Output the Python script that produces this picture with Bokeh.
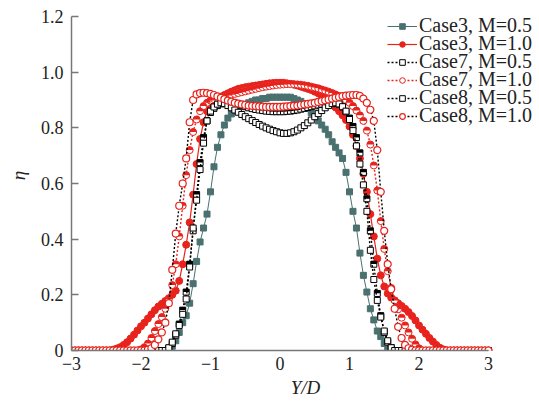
from bokeh.plotting import figure
from bokeh.models import (ColumnDataSource, Legend, LegendItem, FixedTicker, Range1d,
                          PrintfTickFormatter)
from bokeh.embed import file_html
from bokeh.resources import INLINE

# ---------------- data (eta vs Y/D), sampled every 0.05 in Y/D ----------------
yd = [round(-3 + 0.05 * i, 2) for i in range(121)]

case3_m05 = [0] * 28 + [
    0.005, 0.015, 0.035, 0.065, 0.10, 0.125, 0.17, 0.24, 0.32, 0.39,
    0.44, 0.49, 0.57, 0.66, 0.73, 0.775, 0.81, 0.835, 0.85, 0.86,
    0.87, 0.88, 0.885, 0.89, 0.895, 0.90, 0.90, 0.905, 0.905, 0.91,
    0.91, 0.91, 0.91, 0.91, 0.91, 0.91, 0.905, 0.90, 0.895, 0.885,
    0.87, 0.855, 0.84, 0.825, 0.81, 0.795, 0.775, 0.75, 0.73, 0.71,
    0.69, 0.64, 0.57, 0.50, 0.44, 0.35, 0.27, 0.21, 0.15, 0.11,
    0.07, 0.05, 0.025, 0.01] + [0] * 29

case3_m10 = [0] * 12 + [
    0.003, 0.007, 0.012, 0.02, 0.03, 0.043, 0.057, 0.072, 0.087, 0.10,
    0.115, 0.13, 0.145, 0.158, 0.168, 0.178, 0.188, 0.20, 0.215, 0.25,
    0.31, 0.38, 0.46, 0.56, 0.67, 0.76, 0.82, 0.86, 0.88, 0.895,
    0.905, 0.912, 0.918, 0.924, 0.93, 0.935, 0.94, 0.943, 0.946, 0.948,
    0.95, 0.952, 0.954, 0.956, 0.958, 0.96, 0.961, 0.962, 0.962, 0.962,
    0.96, 0.958, 0.955, 0.952, 0.948, 0.944, 0.94, 0.936, 0.93, 0.924,
    0.916, 0.907, 0.897, 0.886, 0.873, 0.86, 0.845, 0.828, 0.805, 0.775,
    0.735, 0.69, 0.635, 0.57, 0.49, 0.41, 0.33, 0.27, 0.23, 0.205,
    0.19, 0.18, 0.17, 0.16, 0.15, 0.138, 0.124, 0.108, 0.09, 0.075,
    0.06, 0.045, 0.032, 0.02, 0.01, 0.004] + [0] * 13

case7_m05 = [0] * 28 + [
    0.008, 0.025, 0.055, 0.095, 0.145, 0.21, 0.31, 0.43, 0.56, 0.675,
    0.765, 0.825, 0.855, 0.87, 0.88, 0.886, 0.89, 0.89, 0.889, 0.887,
    0.884, 0.88, 0.876, 0.872, 0.869, 0.866, 0.864, 0.862, 0.86, 0.859,
    0.858, 0.858, 0.858, 0.858, 0.859, 0.86, 0.862, 0.864, 0.867, 0.87,
    0.873, 0.876, 0.879, 0.882, 0.885, 0.888, 0.89, 0.891, 0.89, 0.885,
    0.875, 0.858, 0.835, 0.805, 0.765, 0.71, 0.64, 0.545, 0.43, 0.31,
    0.205, 0.125, 0.065, 0.03, 0.01] + [0] * 28

case7_m10 = [0] * 20 + [
    0.004, 0.012, 0.025, 0.045, 0.07, 0.095, 0.12, 0.15, 0.185, 0.235,
    0.31, 0.41, 0.52, 0.63, 0.72, 0.785, 0.83, 0.86, 0.878, 0.89,
    0.898, 0.903, 0.907, 0.91, 0.913, 0.916, 0.919, 0.922, 0.925, 0.928,
    0.931, 0.934, 0.937, 0.94, 0.943, 0.946, 0.948, 0.95, 0.952, 0.954,
    0.955, 0.956, 0.957, 0.957, 0.957, 0.956, 0.955, 0.953, 0.951, 0.948,
    0.945, 0.942, 0.938, 0.934, 0.93, 0.925, 0.92, 0.914, 0.907, 0.90,
    0.89, 0.878, 0.862, 0.845, 0.825, 0.79, 0.74, 0.665, 0.575, 0.465,
    0.365, 0.285, 0.225, 0.18, 0.148, 0.118, 0.09, 0.065, 0.042, 0.022,
    0.008] + [0] * 20

case8_m05 = [0] * 28 + [
    0.01, 0.03, 0.06, 0.09, 0.13, 0.185, 0.30, 0.44, 0.54, 0.65,
    0.745, 0.825, 0.86, 0.875, 0.885, 0.89, 0.887, 0.88, 0.872, 0.864,
    0.856, 0.848, 0.84, 0.833, 0.826, 0.819, 0.812, 0.806, 0.80, 0.795,
    0.79, 0.786, 0.782, 0.78, 0.78, 0.782, 0.786, 0.792, 0.80, 0.808,
    0.818, 0.828, 0.84, 0.851, 0.862, 0.872, 0.88, 0.887, 0.89, 0.886,
    0.876, 0.86, 0.83, 0.79, 0.735, 0.67, 0.595, 0.50, 0.36, 0.255,
    0.18, 0.12, 0.07, 0.035, 0.01] + [0] * 28

case8_m10 = [0] * 22 + [
    0.003, 0.008, 0.02, 0.04, 0.065, 0.10, 0.17, 0.29, 0.42, 0.52,
    0.60, 0.69, 0.82, 0.90, 0.92, 0.925, 0.926, 0.925, 0.922, 0.918,
    0.913, 0.908, 0.903, 0.898, 0.894, 0.89, 0.887, 0.884, 0.882, 0.88,
    0.879, 0.878, 0.877, 0.876, 0.875, 0.875, 0.875, 0.875, 0.875, 0.876,
    0.877, 0.878, 0.879, 0.88, 0.882, 0.884, 0.886, 0.888, 0.89, 0.893,
    0.896, 0.899, 0.902, 0.905, 0.908, 0.911, 0.914, 0.916, 0.917, 0.918,
    0.918, 0.915, 0.905, 0.89, 0.865, 0.825, 0.72, 0.57, 0.43, 0.31,
    0.22, 0.15, 0.085, 0.045, 0.02, 0.008, 0.003] + [0] * 22

labels = ["Case3, M=0.5", "Case3, M=1.0", "Case7, M=0.5",
          "Case7, M=1.0", "Case8, M=0.5", "Case8, M=1.0"]
x_ticks = [-3, -2, -1, 0, 1, 2, 3]
y_ticks = [0, 0.2, 0.4, 0.6, 0.8, 1.0, 1.2]

for arr in (case3_m05, case3_m10, case7_m05, case7_m10, case8_m05, case8_m10):
    assert len(arr) == len(yd), len(arr)

# ---------------- figure ----------------
TEAL = "#4b7070"
RED = "#e8221c"
FONT = "Liberation Serif"
# frame spans x 71..539 and y 0..350 px; the axes themselves are bounded to
# -3..3 (417 px) and 0..1.2 (334 px), the extra frame room stays empty so that
# the legend is not clipped
X_END = 3 + 6 * (539 - 71 - 417) / 417
Y_END = 1.2 * 350 / 334
PX_PER_ETA = 334 / 1.2

p = figure(width=539, height=401, output_backend="svg", toolbar_location=None,
           x_range=Range1d(-3, X_END), y_range=Range1d(0, Y_END),
           min_border_left=71, min_border_right=0, min_border_top=0,
           min_border_bottom=51)
p.xgrid.visible = False
p.ygrid.visible = False
p.outline_line_color = None
p.background_fill_color = "white"

half_dy = 1.6 / PX_PER_ETA  # offset (in data units) for the upper-half fills

def src(vals):
    return ColumnDataSource(dict(x=yd, y=vals, yh=[v + half_dy for v in vals]))

s1, s2, s3, s4, s5, s6 = (src(v) for v in (case3_m05, case3_m10, case7_m05,
                                           case7_m10, case8_m05, case8_m10))

# Case3, M=0.5
l1 = p.line("x", "y", source=s1, line_color=TEAL, line_width=1)
m1 = p.scatter("x", "y", source=s1, marker="square", size=6,
               fill_color=TEAL, line_color=TEAL)
# Case3, M=1.0
l2 = p.line("x", "y", source=s2, line_color=RED, line_width=1.2)
m2 = p.scatter("x", "y", source=s2, marker="circle", size=7,
               fill_color=RED, line_color=RED)
# Case7, M=0.5
l3 = p.line("x", "y", source=s3, line_color="black", line_width=1.4, line_dash="2 2")
m3 = p.scatter("x", "y", source=s3, marker="square", size=6,
               fill_color="white", line_color="black", line_width=1)
h3 = p.rect("x", "yh", source=s3, width=6, height=3, width_units="screen",
            height_units="screen", fill_color="black", line_color=None)
# Case7, M=1.0
l4 = p.line("x", "y", source=s4, line_color=RED, line_width=1.4, line_dash="2 2")
m4 = p.scatter("x", "y", source=s4, marker="circle", size=7,
               fill_color="white", line_color=RED, line_width=1)
h4 = p.wedge("x", "y", source=s4, radius=3.5, radius_units="screen",
             start_angle=0, end_angle=3.14159, fill_color=RED, line_color=None)
# Case8, M=0.5
l5 = p.line("x", "y", source=s5, line_color="black", line_width=1.4, line_dash="2 2")
m5 = p.scatter("x", "y", source=s5, marker="square", size=6,
               fill_color="white", line_color="black", line_width=1)
# Case8, M=1.0
l6 = p.line("x", "y", source=s6, line_color="black", line_width=1.4, line_dash="2 2")
m6 = p.scatter("x", "y", source=s6, marker="circle", size=7,
               fill_color="white", line_color=RED, line_width=1.2)

# ---------------- axes ----------------
for ax in (p.xaxis[0], p.yaxis[0]):
    ax.axis_line_color = "#777777"
    ax.axis_line_width = 1.5
    ax.major_tick_line_color = "#777777"
    ax.major_tick_line_width = 1.5
    ax.minor_tick_line_color = None
    ax.major_label_text_font = FONT
    ax.major_label_text_font_size = "18px"
    ax.major_label_text_color = "#222222"
    ax.axis_label_text_font = FONT
    ax.axis_label_text_font_size = "19px"
    ax.axis_label_text_font_style = "italic"
    ax.axis_label_text_color = "#222222"

p.xaxis.ticker = FixedTicker(ticks=x_ticks)
p.xaxis.bounds = (x_ticks[0], x_ticks[-1])
p.xaxis.major_label_overrides = {-3: "\u22123", -2: "\u22122", -1: "\u22121"}
p.xaxis.major_tick_in = 0
p.xaxis.major_tick_out = 0
p.xaxis.major_label_standoff = 6
p.xaxis.axis_label = "Y/D"
p.xaxis.axis_label_standoff = 4
p.xaxis.axis_label_text_baseline = "top"

p.yaxis.ticker = FixedTicker(ticks=y_ticks)
p.yaxis.bounds = (y_ticks[0], y_ticks[-1])
p.yaxis.formatter = PrintfTickFormatter(format="%.1f")
p.yaxis.major_label_overrides = {0: "0"}
p.yaxis.major_tick_in = 7
p.yaxis.major_tick_out = 0
p.yaxis.major_label_standoff = 8
p.yaxis.axis_label = "\u03b7"
p.yaxis.axis_label_standoff = 9

# ---------------- legend (one single-item legend per row, 18 px apart) ----------------
rend = [[l1, m1], [l2, m2], [l3, m3], [l4, m4], [l5, m5], [l6, m6]]
for k, (lab, r) in enumerate(zip(labels, rend)):
    lg = Legend(items=[LegendItem(label=lab, renderers=r)],
                location=(316, 313 - 18 * k), orientation="vertical",
                label_text_font=FONT, label_text_font_size="20px",
                label_text_color="#222222",
                glyph_width=30, glyph_height=14, label_height=14,
                label_standoff=2, spacing=0, padding=0, margin=0,
                border_line_color=None, background_fill_alpha=0)
    p.add_layout(lg)

open("out.html", "w").write(file_html(p, INLINE))
